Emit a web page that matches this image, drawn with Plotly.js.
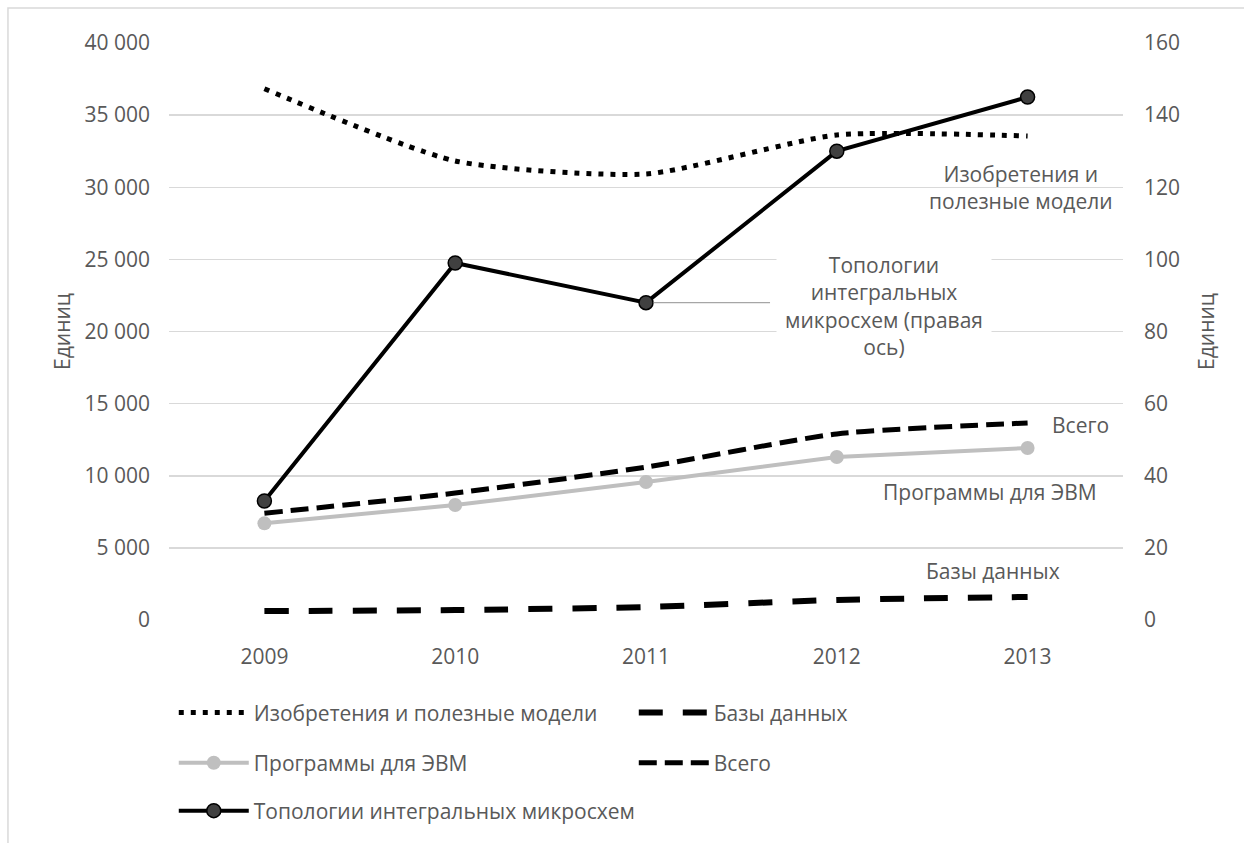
<!DOCTYPE html>
<html>
<head>
<meta charset="utf-8">
<script src="https://cdn.plot.ly/plotly-3.0.1.min.js"></script>
<style>html,body{margin:0;padding:0;background:#fff;}#chart{width:1244px;height:843px;}</style>
</head>
<body>
<div id="chart"></div>
<script>
const years = ['2009', '2010', '2011', '2012', '2013'];
const inventions = [36830, 31820, 30920, 33620, 33550];
const databases = [620, 690, 900, 1390, 1600];
const programs = [6700, 7970, 9570, 11300, 11920];
const total = [7400, 8800, 10600, 12900, 13660];
const topology = [33, 99, 88, 130, 145];

const names = {
  inventions: 'Изобретения и полезные модели',
  databases: 'Базы данных',
  programs: 'Программы для ЭВМ',
  total: 'Всего',
  topology: 'Топологии интегральных микросхем'
};
const labelTexts = {
  inventions: 'Изобретения и<br>полезные модели',
  topology: 'Топологии<br>интегральных<br>микросхем (правая<br>ось)',
  total: 'Всего',
  programs: 'Программы для ЭВМ',
  databases: 'Базы данных'
};
const yTitle = 'Единиц';

const FONT = 'Open Sans, sans-serif';
const GREY = '#595959';
const FS = 21;

const traces = [
  {x: years, y: inventions, name: names.inventions, type: 'scatter', mode: 'lines',
   line: {color: '#000', width: 5, dash: '5px,7px', shape: 'spline', smoothing: 0.6}, legend: 'legend'},
  {x: years, y: databases, name: names.databases, type: 'scatter', mode: 'lines',
   line: {color: '#000', width: 6, dash: '24px,20px', shape: 'spline', smoothing: 0.6}, legend: 'legend'},
  {x: years, y: programs, name: names.programs, type: 'scatter', mode: 'lines+markers',
   line: {color: '#bfbfbf', width: 4}, marker: {color: '#bfbfbf', size: 14}, legend: 'legend2'},
  {x: years, y: total, name: names.total, type: 'scatter', mode: 'lines',
   line: {color: '#000', width: 5, dash: '18px,8px', shape: 'spline', smoothing: 0.6}, legend: 'legend2'},
  {x: years, y: topology, name: names.topology, type: 'scatter', mode: 'lines+markers', yaxis: 'y2',
   line: {color: '#000', width: 4}, marker: {color: '#404040', size: 14, line: {color: '#000', width: 1.5}}, legend: 'legend3'}
];

const legendBase = {
  orientation: 'h', xanchor: 'left', yanchor: 'middle', x: 0.005,
  entrywidth: 375, entrywidthmode: 'pixels', itemwidth: 70,
  font: {family: FONT, size: FS, color: GREY}, bgcolor: 'rgba(0,0,0,0)'
};

const layout = {
  width: 1244, height: 843,
  margin: {l: 169, r: 121, t: 43, b: 223},
  paper_bgcolor: '#fff', plot_bgcolor: '#fff',
  separators: ', ',
  font: {family: FONT, size: FS, color: GREY},
  showlegend: true,
  legend: Object.assign({}, legendBase, {y: -0.161}),
  legend2: Object.assign({}, legendBase, {y: -0.248}),
  legend3: Object.assign({}, legendBase, {y: -0.331}),
  xaxis: {type: 'category', range: [-0.5, 4.5], showgrid: false, showline: false, zeroline: false,
          ticks: '', ticklabelstandoff: 22, tickfont: {family: FONT, size: FS, color: GREY}},
  yaxis: {range: [0, 40000], dtick: 5000, tickformat: ',d', showgrid: true, gridcolor: '#d9d9d9', gridwidth: 1.5,
          zeroline: false, showline: false, ticks: '', ticklabelstandoff: 18,
          tickfont: {family: FONT, size: FS, color: GREY},
          title: {text: yTitle, standoff: 8, font: {family: FONT, size: FS, color: GREY}}},
  yaxis2: {range: [0, 160], dtick: 20, overlaying: 'y', side: 'right', showgrid: false, zeroline: false,
           showline: false, ticks: '', ticklabelstandoff: 20,
           tickfont: {family: FONT, size: FS, color: GREY},
           title: {text: yTitle, standoff: 20, font: {family: FONT, size: FS, color: GREY}}},
  shapes: [
    {type: 'rect', xref: 'paper', yref: 'paper', x0: -0.1688, x1: 1.2, y0: -0.5, y1: 1.0607,
     line: {color: '#d9d9d9', width: 1.5}, fillcolor: 'rgba(0,0,0,0)', layer: 'below'},
    {type: 'line', xref: 'x', yref: 'y2', x0: 2.04, x1: 2.65, y0: topology[2], y1: topology[2],
     line: {color: '#a6a6a6', width: 1.2}, layer: 'above'}
  ],
  annotations: [
    {xref: 'paper', yref: 'y', x: 0.893, y: 30000, xanchor: 'center', yanchor: 'middle',
     text: labelTexts.inventions, showarrow: false,
     align: 'center', font: {family: FONT, size: FS, color: GREY}},
    {xref: 'paper', yref: 'y2', x: 0.7495, y: 87.2, xanchor: 'center', yanchor: 'middle',
     text: labelTexts.topology, showarrow: false,
     width: 212, height: 126, bgcolor: '#fff', align: 'center', valign: 'middle',
     font: {family: FONT, size: FS, color: GREY}},
    {xref: 'paper', yref: 'y', x: 0.955, y: 13518, xanchor: 'center', yanchor: 'middle',
     text: labelTexts.total, showarrow: false,
     font: {family: FONT, size: FS, color: GREY}},
    {xref: 'paper', yref: 'y', x: 0.861, y: 8873, xanchor: 'center', yanchor: 'middle',
     text: labelTexts.programs, showarrow: false,
     font: {family: FONT, size: FS, color: GREY}},
    {xref: 'paper', yref: 'y', x: 0.864, y: 3397, xanchor: 'center', yanchor: 'middle',
     text: labelTexts.databases, showarrow: false,
     font: {family: FONT, size: FS, color: GREY}}
  ]
};

Plotly.newPlot('chart', traces, layout, {displayModeBar: false, staticPlot: true});
</script>
</body>
</html>
